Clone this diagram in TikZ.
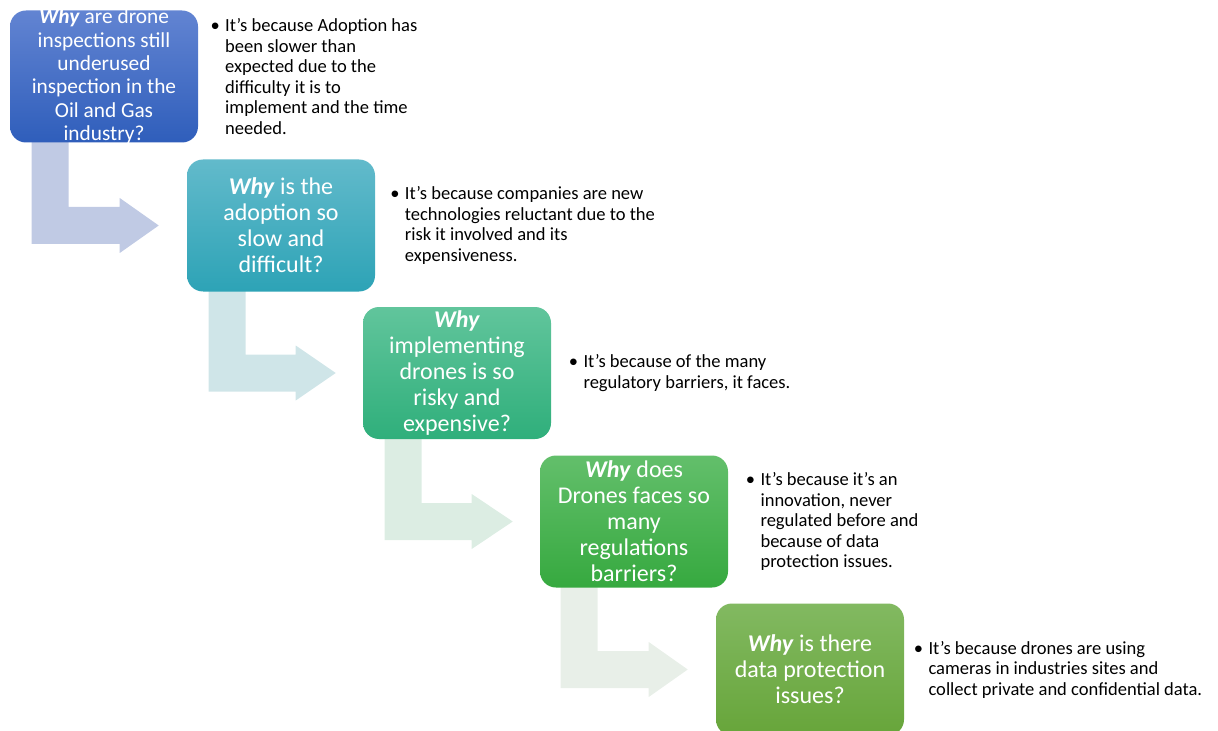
\documentclass[tikz,border=0pt]{standalone}
\usepackage{fontspec}
\setmainfont{Carlito}
\usetikzlibrary{positioning, calc, backgrounds}
\definecolor{blueTop}{RGB}{98, 132, 210}
\definecolor{blueBottom}{RGB}{47, 94, 187}
\definecolor{tealTop}{RGB}{98, 186, 203}
\definecolor{tealBottom}{RGB}{45, 163, 182}
\definecolor{mintTop}{RGB}{97, 197, 156}
\definecolor{mintBottom}{RGB}{47, 175, 123}
\definecolor{greenTop}{RGB}{99, 191, 107}
\definecolor{greenBottom}{RGB}{54, 169, 63}
\definecolor{oliveTop}{RGB}{130, 185, 97}
\definecolor{oliveBottom}{RGB}{103, 165, 58}
\definecolor{arrowBlue}{RGB}{192, 202, 228}
\definecolor{arrowTeal}{RGB}{207, 229, 232}
\definecolor{arrowMint}{RGB}{220, 237, 227}
\definecolor{arrowGreen}{RGB}{232, 239, 232}

\begin{document}
\begin{tikzpicture}[x=0.75pt, y=-0.75pt,
    whybox/.style={rounded corners=12pt, minimum width=141pt, minimum height=99pt, inner sep=0pt},
    whytext/.style={text=white, align=center, inner sep=0pt, font=\fontsize{18}{19.5}\selectfont},
    answer/.style={inner sep=0pt, align=left, font=\fontsize{13.9}{15.4}\selectfont}]
    \useasboundingbox (0,0) rectangle (1218,731);

    % Question boxes
    \node[whybox, top color=blueTop, bottom color=blueBottom] at (104,76.5) (q1) {};
    \node[whytext, font=\fontsize{16}{17.5}\selectfont] at (q1) (q1t) {
        \textbf{\textit{Why}} are drone\\
        inspections still\\
        underused\\
        inspection in the\\
        Oil and Gas\\
        industry?
    };
    \node[whybox, top color=tealTop, bottom color=tealBottom] at (281,225.5) (q2) {};
    \node[whytext] at (q2) (q2t) {
        \textbf{\textit{Why}} is the\\
        adoption so\\
        slow and\\
        difficult?
    };
    \node[whybox, top color=mintTop, bottom color=mintBottom] at (457,373) (q3) {};
    \node[whytext] at (q3) (q3t) {
        \textbf{\textit{Why}}\\
        implementing\\
        drones is so\\
        risky and\\
        expensive?
    };
    \node[whybox, top color=greenTop, bottom color=greenBottom] at (634,521.5) (q4) {};
    \node[whytext] at (q4) (q4t) {
        \textbf{\textit{Why}} does\\
        Drones faces so\\
        many\\
        regulations\\
        barriers?
    };
    \node[whybox, top color=oliveTop, bottom color=oliveBottom] at (810,669.5) (q5) {};
    \node[whytext] at (q5) (q5t) {
        \textbf{\textit{Why}} is there\\
        data protection\\
        issues?
    };

    % Answers
    \node[answer, right=20pt of q1] (a1) {
        \llap{\textbullet\hspace{4pt}}It’s because Adoption has\\
        been slower than\\
        expected due to the\\
        difficulty it is to\\
        implement and the time\\
        needed.
    };
    \node[answer, right=22pt of q2] (a2) {
        \llap{\textbullet\hspace{4pt}}It’s because companies are new\\
        technologies reluctant due to the\\
        risk it involved and its\\
        expensiveness.
    };
    \node[answer, right=24pt of q3] (a3) {
        \llap{\textbullet\hspace{4pt}}It’s because of the many\\
        regulatory barriers, it faces.
    };
    \node[answer, right=24pt of q4] (a4) {
        \llap{\textbullet\hspace{4pt}}It’s because it’s an\\
        innovation, never\\
        regulated before and\\
        because of data\\
        protection issues.
    };
    \node[answer, right=18pt of q5] (a5) {
        \llap{\textbullet\hspace{4pt}}It’s because drones are using\\
        cameras in industries sites and\\
        collect private and confidential data.
    };

    % Bent arrows
    \begin{scope}[on background layer]
        \coordinate (t1) at ($(q2.west)+(-28,0)$);
        \fill[arrowBlue] ($(q1.south west)+(22,-4)$) |- ($(t1)+(-39,18.5)$) -- ++(0,9) -- (t1)
            -- ($(t1)+(-39,-27.5)$) -- ++(0,9) -| ($(q1.south west)+(59,-4)$) -- cycle;
        \coordinate (t2) at ($(q3.west)+(-27,0)$);
        \fill[arrowTeal] ($(q2.south west)+(22,-4)$) |- ($(t2)+(-40,18.5)$) -- ++(0,9) -- (t2)
            -- ($(t2)+(-40,-27.5)$) -- ++(0,9) -| ($(q2.south west)+(59,-4)$) -- cycle;
        \coordinate (t3) at ($(q4.west)+(-27,0)$);
        \fill[arrowMint] ($(q3.south west)+(22,-4)$) |- ($(t3)+(-41,18.5)$) -- ++(0,9) -- (t3)
            -- ($(t3)+(-41,-27.5)$) -- ++(0,9) -| ($(q3.south west)+(59,-4)$) -- cycle;
        \coordinate (t4) at ($(q5.west)+(-28,0)$);
        \fill[arrowGreen] ($(q4.south west)+(21,-4)$) |- ($(t4)+(-39,18.5)$) -- ++(0,9) -- (t4)
            -- ($(t4)+(-39,-27.5)$) -- ++(0,9) -| ($(q4.south west)+(58,-4)$) -- cycle;
    \end{scope}
\end{tikzpicture}
\end{document}
